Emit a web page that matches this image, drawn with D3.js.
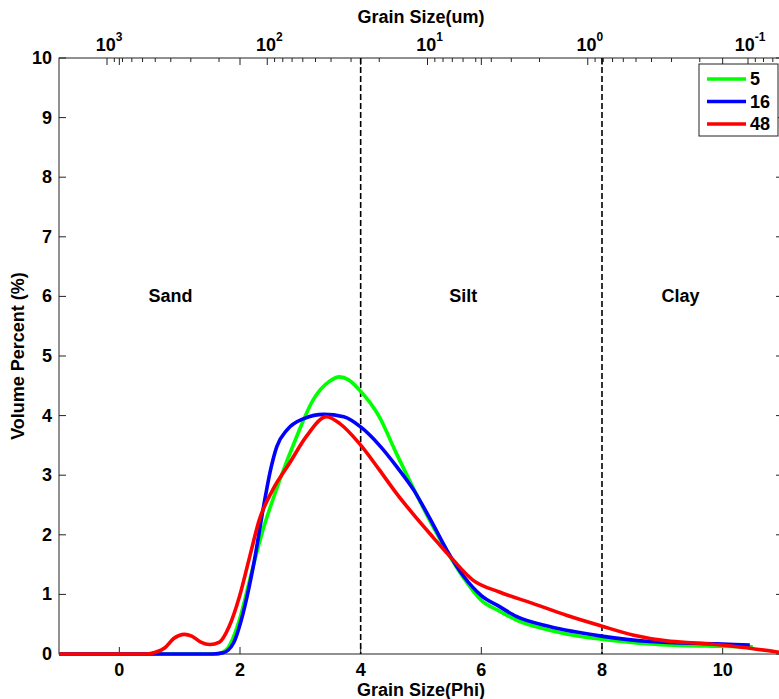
<!DOCTYPE html>
<html>
<head>
<meta charset="utf-8">
<script src="https://cdn.jsdelivr.net/npm/d3@7"></script>
<style>
  body { margin: 0; background: #fff; }
  svg { display: block; font-family: 'Liberation Sans', Arial, sans-serif; font-weight: bold; }
</style>
</head>
<body>
<div id="chart"></div>
<script>
// series: grain size (phi) vs volume percent
const phi5 = [-1, 1.6, 1.77, 1.99, 2.16, 2.38, 2.66, 2.94, 3.21, 3.49, 3.65, 3.8, 3.98, 4.31, 4.59, 4.86, 5.14, 5.42, 5.69, 6.0, 6.3, 6.58, 7.13, 7.68, 7.99, 8.8, 9.9, 10.5];
const vol5 = [0, 0, 0.07, 0.57, 1.24, 2.08, 2.92, 3.65, 4.26, 4.58, 4.65, 4.6, 4.43, 3.98, 3.37, 2.81, 2.25, 1.74, 1.3, 0.9, 0.72, 0.57, 0.40, 0.29, 0.25, 0.17, 0.13, 0.12];

const phi16 = [-1, 1.55, 1.72, 1.89, 2.05, 2.22, 2.39, 2.5, 2.61, 2.78, 3.06, 3.39, 3.72, 4.0, 4.33, 4.6, 4.88, 5.16, 5.43, 5.71, 6.0, 6.31, 6.58, 7.13, 7.99, 8.79, 9.9, 10.45];
const vol16 = [0, 0, 0.02, 0.18, 0.68, 1.47, 2.47, 3.06, 3.48, 3.76, 3.95, 4.02, 3.98, 3.81, 3.48, 3.14, 2.75, 2.25, 1.74, 1.3, 0.98, 0.79, 0.63, 0.46, 0.30, 0.21, 0.17, 0.15];

const phi48 = [-1, 0.45, 0.6, 0.75, 0.9, 1.08, 1.2, 1.35, 1.5, 1.66, 1.82, 1.99, 2.16, 2.32, 2.54, 2.82, 3.1, 3.43, 3.65, 3.98, 4.31, 4.59, 4.86, 5.19, 5.53, 5.86, 6.3, 6.85, 7.41, 7.99, 8.51, 9.07, 9.62, 10.17, 11];
const vol48 = [0, 0, 0.03, 0.1, 0.26, 0.33, 0.3, 0.2, 0.16, 0.2, 0.46, 0.96, 1.63, 2.25, 2.75, 3.2, 3.65, 3.98, 3.87, 3.53, 3.09, 2.7, 2.36, 1.97, 1.58, 1.24, 1.04, 0.85, 0.65, 0.47, 0.32, 0.22, 0.18, 0.13, 0.02];

const seriesNames = ['5', '16', '48'];
const seriesColors = ['#00ff00', '#0000ff', '#ff0000'];

const xTicks = [0, 2, 4, 6, 8, 10];
const yTicks = [0, 1, 2, 3, 4, 5, 6, 7, 8, 9, 10];
const topMajor = [1000, 100, 10, 1, 0.1];
const topExp = ['3', '2', '1', '0', '-1'];
const classBounds = [4, 8];
const classNames = ['Sand', 'Silt', 'Clay'];
const classPhi = [0.85, 5.7, 9.3];

const W = 779, H = 699;
const m = { left: 59, right: 783, top: 58, bottom: 654 };

const svg = d3.select('#chart').append('svg')
    .attr('width', W)
    .attr('height', H);

const x = d3.scaleLinear().domain([-1, 11]).range([m.left, m.right]);
const y = d3.scaleLinear().domain([0, 10]).range([m.bottom, m.top]);
// top axis in micrometres, log scale (placed as in the original figure)
const xTop = d3.scaleLog().domain([1000, 0.1]).range([107, 748]);

const axisColor = '#222';

// frame
svg.append('rect')
    .attr('x', m.left).attr('y', m.top)
    .attr('width', m.right - m.left).attr('height', m.bottom - m.top)
    .attr('fill', 'none').attr('stroke', axisColor).attr('stroke-width', 1);

// y ticks (inside, both sides)
yTicks.forEach(t => {
    svg.append('line').attr('x1', m.left).attr('x2', m.left + 7).attr('y1', y(t)).attr('y2', y(t))
        .attr('stroke', axisColor);
    svg.append('line').attr('x1', m.right).attr('x2', m.right - 7).attr('y1', y(t)).attr('y2', y(t))
        .attr('stroke', axisColor);
    svg.append('text')
        .attr('x', m.left - 7).attr('y', y(t))
        .attr('text-anchor', 'end').attr('dominant-baseline', 'central')
        .style('font-size', '18px')
        .text(t);
});

// x ticks (bottom + mirrored on top)
xTicks.forEach(t => {
    svg.append('line').attr('x1', x(t)).attr('x2', x(t)).attr('y1', m.bottom).attr('y2', m.bottom - 7)
        .attr('stroke', axisColor);
    svg.append('line').attr('x1', x(t)).attr('x2', x(t)).attr('y1', m.top).attr('y2', m.top + 7)
        .attr('stroke', axisColor);
    svg.append('text')
        .attr('x', x(t)).attr('y', 676)
        .attr('text-anchor', 'middle')
        .style('font-size', '18px')
        .text(t);
});

// top log axis ticks
const minorVals = [];
[1000, 100, 10, 1, 0.1, 0.01].forEach(dec => {
    for (let k = 2; k <= 9; k++) minorVals.push(dec * k);
});
minorVals.filter(v => xTop(v) > m.left + 1 && xTop(v) < W).forEach(v => {
    svg.append('line').attr('x1', xTop(v)).attr('x2', xTop(v)).attr('y1', m.top).attr('y2', m.top + 4)
        .attr('stroke', axisColor);
});
topMajor.forEach((v, i) => {
    svg.append('line').attr('x1', xTop(v)).attr('x2', xTop(v)).attr('y1', m.top).attr('y2', m.top + 7)
        .attr('stroke', axisColor);
    const txt = svg.append('text')
        .attr('x', xTop(v) + 2).attr('y', 51)
        .attr('text-anchor', 'middle')
        .style('font-size', '18px');
    txt.append('tspan').text('10');
    txt.append('tspan').attr('dy', -10).style('font-size', '12px').text(topExp[i]);
});

// class boundaries
classBounds.forEach(b => {
    svg.append('line')
        .attr('x1', x(b)).attr('x2', x(b)).attr('y1', m.top).attr('y2', m.bottom)
        .attr('stroke', '#000').attr('stroke-width', 1.6).attr('stroke-dasharray', '6,3');
});
classNames.forEach((c, i) => {
    svg.append('text')
        .attr('x', x(classPhi[i])).attr('y', y(6))
        .attr('text-anchor', 'middle').attr('dominant-baseline', 'central')
        .style('font-size', '18px')
        .text(c);
});

// curves
const series = [
    { phi: phi5, vol: vol5 },
    { phi: phi16, vol: vol16 },
    { phi: phi48, vol: vol48 }
];
const line = d3.line()
    .x(d => x(d[0]))
    .y(d => y(d[1]))
    .curve(d3.curveMonotoneX);

series.forEach((s, i) => {
    svg.append('path')
        .datum(d3.zip(s.phi, s.vol))
        .attr('d', line)
        .attr('fill', 'none')
        .attr('stroke', seriesColors[i])
        .attr('stroke-width', 3.6)
        .attr('stroke-linejoin', 'round');
});

// legend
const lg = svg.append('g');
lg.append('rect')
    .attr('x', 699).attr('y', 64).attr('width', 79).attr('height', 72)
    .attr('fill', '#fff').attr('stroke', axisColor);
seriesNames.forEach((n, i) => {
    const ly = 79 + i * 22.5;
    lg.append('line').attr('x1', 707).attr('x2', 746).attr('y1', ly).attr('y2', ly)
        .attr('stroke', seriesColors[i]).attr('stroke-width', 3.6);
    lg.append('text').attr('x', 750).attr('y', ly).attr('dominant-baseline', 'central')
        .style('font-size', '18px').text(n);
});

// axis titles
svg.append('text')
    .attr('x', (m.left + m.right) / 2).attr('y', 696)
    .attr('text-anchor', 'middle').style('font-size', '18px')
    .text('Grain Size(Phi)');
svg.append('text')
    .attr('x', (m.left + m.right) / 2).attr('y', 23)
    .attr('text-anchor', 'middle').style('font-size', '18px')
    .text('Grain Size(um)');
svg.append('text')
    .attr('transform', `translate(24,${(m.top + m.bottom) / 2}) rotate(-90)`)
    .attr('text-anchor', 'middle').style('font-size', '18px')
    .text('Volume Percent (%)');
</script>
</body>
</html>
